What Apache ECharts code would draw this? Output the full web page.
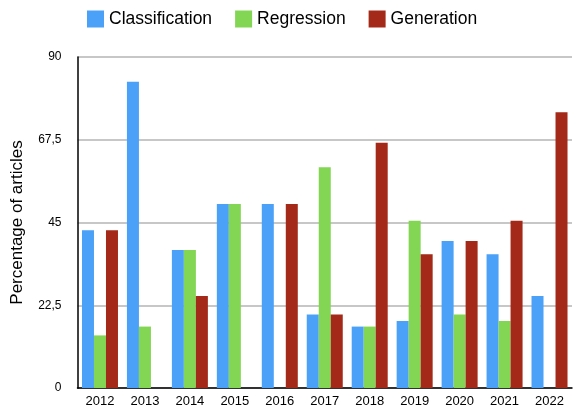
<!DOCTYPE html>
<html>
<head>
<meta charset="utf-8">
<script src="https://cdn.jsdelivr.net/npm/echarts@6/dist/echarts.min.js"></script>
<style>
  html, body { margin: 0; padding: 0; background: #fff; }
  #chart { width: 573px; height: 408px; }
</style>
</head>
<body>
<div id="chart"></div>
<script>
// years on the x axis
var years = ['2012', '2013', '2014', '2015', '2016', '2017', '2018', '2019', '2020', '2021', '2022'];

// percentage of articles per task
var classification = [42.9, 83.3, 37.5, 50, 50, 20, 16.7, 18.2, 40, 36.4, 25];
var regression = [14.3, 16.7, 37.5, 50, 0, 60, 16.7, 45.5, 20, 18.2, 0];
var generation = [42.9, 0, 25, 0, 50, 20, 66.7, 36.4, 40, 45.5, 75];

var seriesNames = ['Classification', 'Regression', 'Generation'];
var colors = ['#4AA1F7', '#82D653', '#A42918'];

var chart = echarts.init(document.getElementById('chart'), null, { renderer: 'canvas' });

function makeBar(name, data, color) {
  return {
    name: name,
    type: 'bar',
    data: data,
    barWidth: 12,
    barGap: '0%',
    itemStyle: { color: color }
  };
}

var option = {
  animation: false,
  textStyle: { fontFamily: '"Liberation Sans", Arial, sans-serif' },
  legend: {
    top: 5,
    left: 82,
    itemWidth: 17,
    itemHeight: 17,
    itemGap: 23,
    icon: 'rect',
    textStyle: { fontSize: 17.5, color: '#000' },
    data: seriesNames
  },
  grid: { left: 77.5, right: 1, top: 57, bottom: 20 },
  xAxis: {
    type: 'category',
    data: years,
    axisLine: { lineStyle: { color: '#000', width: 1.5 } },
    axisTick: { show: false },
    axisLabel: { color: '#000', fontSize: 13, margin: 7 }
  },
  yAxis: {
    type: 'value',
    min: 0,
    max: 90,
    interval: 22.5,
    name: 'Percentage of articles',
    nameLocation: 'middle',
    nameGap: 52,
    nameTextStyle: { fontSize: 17, color: '#000' },
    axisLine: { show: true, lineStyle: { color: '#000', width: 1.5 } },
    axisTick: { show: false },
    splitLine: { lineStyle: { color: '#b5b5b5', width: 1.5 } },
    axisLabel: {
      color: '#000',
      fontSize: 12,
      margin: 16,
      formatter: function (v) { return String(v).replace('.', ','); }
    }
  },
  series: [
    makeBar(seriesNames[0], classification, colors[0]),
    makeBar(seriesNames[1], regression, colors[1]),
    makeBar(seriesNames[2], generation, colors[2])
  ]
};

chart.setOption(option);
</script>
</body>
</html>
